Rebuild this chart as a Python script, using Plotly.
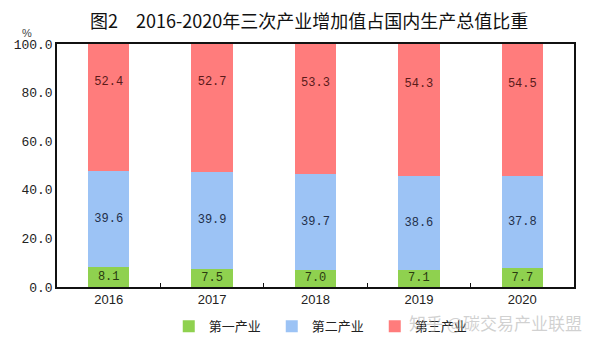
import plotly.graph_objects as go

years = ["2016", "2017", "2018", "2019", "2020"]
primary = [8.1, 7.5, 7.0, 7.1, 7.7]
secondary = [39.6, 39.9, 39.7, 38.6, 37.8]
tertiary = [52.4, 52.7, 53.3, 54.3, 54.5]
series_names = ["第一产业", "第二产业", "第三产业"]
y_ticks = [0, 20, 40, 60, 80, 100]
y_tick_labels = ["0.0", "20.0", "40.0", "60.0", "80.0", "100.0"]

colors = ["#8FD14F", "#9CC3F5", "#FF7C7C"]
text_colors = ["#2a3a10", "#1f2f4a", "#5a1a1a"]

fig = go.Figure()
for i, (vals, name, c, tc) in enumerate(zip([primary, secondary, tertiary], series_names, colors, text_colors)):
    fig.add_trace(go.Bar(
        x=years, y=vals, name=name,
        marker=dict(color=c, line=dict(width=0)),
        text=[f"{v:.1f}" for v in vals] if i < 2 else None,
        textposition="inside" if i < 2 else "none",
        insidetextanchor="middle",
        constraintext="none",
        textfont=dict(family="Liberation Mono", size=12, color=tc),
        textangle=0,
    ))

# labels of the tertiary segment sit in its upper part, as in the reference
label_y = [p + s + 0.7 * t for p, s, t in zip(primary, secondary, tertiary)]
fig.add_trace(go.Scatter(
    x=years, y=label_y, mode="text",
    text=[f"{v:.1f}" for v in tertiary],
    textfont=dict(family="Liberation Mono", size=12, color=text_colors[2]),
    showlegend=False, hoverinfo="skip",
))

fig.update_layout(
    width=600, height=355,
    barmode="stack", bargap=0.6,
    paper_bgcolor="white", plot_bgcolor="white",
    margin=dict(l=57, r=26, t=44, b=68, autoexpand=False),
    showlegend=True,
    legend=dict(orientation="h", x=0.515, xanchor="center", y=-0.1, yanchor="top",
                traceorder="normal",
                font=dict(family="Noto Sans CJK SC", size=13, color="#222"),
                itemwidth=30, entrywidthmode="pixels", entrywidth=58),
    font=dict(family="Liberation Mono", color="#222"),
)
fig.update_xaxes(
    type="category", showline=True, linecolor="#111", linewidth=1.5, mirror=True,
    ticks="inside", tickson="boundaries", ticklen=4, tickcolor="#111",
    tickfont=dict(family="Liberation Sans", size=13, color="#222"),
    showgrid=False,
)
fig.update_yaxes(
    range=[0, 100], tickvals=y_ticks, ticktext=y_tick_labels,
    showline=True, linecolor="#111", linewidth=1.5, mirror=True,
    ticks="", showgrid=False, zeroline=False,
    tickfont=dict(family="Liberation Mono", size=13, color="#222"),
)
fig.add_annotation(text="图2　2016-2020年三次产业增加值占国内生产总值比重",
                   xref="paper", yref="paper", x=0.487, y=1.0, yshift=24,
                   xanchor="center", yanchor="middle", showarrow=False,
                   font=dict(family="Noto Sans CJK SC", size=18, color="#111"))
fig.add_annotation(text="%", xref="paper", yref="paper", x=0, y=1, xshift=-30, yshift=11,
                   xanchor="center", yanchor="middle", showarrow=False,
                   font=dict(family="Liberation Sans", size=11, color="#444"))
fig.add_annotation(text="知乎 @碳交易产业联盟", xref="paper", yref="paper", x=1.02, y=-0.085,
                   xanchor="right", yanchor="top", showarrow=False,
                   font=dict(family="Noto Sans CJK SC", size=17, color="rgba(170,170,170,0.55)"))

fig.write_html("out.html", post_script="document.body.style.margin='0';",
               config={"displayModeBar": False})
